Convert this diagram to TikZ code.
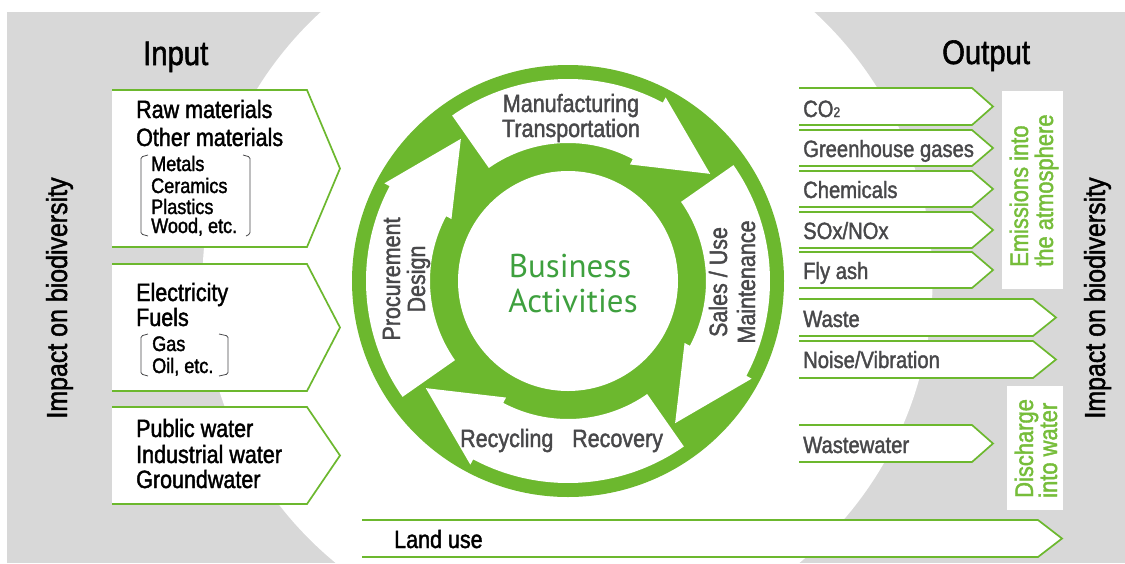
\documentclass[tikz,border=0pt]{standalone}
\usepackage{fontspec}
\setmainfont{Liberation Sans}[FakeStretch=0.86,FakeBold=1.6]
\newfontfamily\bafont{PT Sans}
\definecolor{grn}{RGB}{108,184,46}
\definecolor{bggray}{RGB}{216,216,216}
\definecolor{dgray}{RGB}{72,72,74}
\definecolor{bagreen}{RGB}{62,160,62}
\definecolor{emgreen}{RGB}{118,189,58}
\newcommand\myinarrow[2]{%
  \fill[white] (112,#1) -- (307,#1) -- (340,{(#1+#2)/2}) -- (307,#2) -- (112,#2) -- cycle;
  \draw[border] (112,#1) -- (307,#1) -- (340,{(#1+#2)/2}) -- (307,#2) -- (112,#2);}
\newcommand\myoutarrow[5]{%
  \fill[white] (#1,#2) -- (#4,#2) -- (#5,{(#2+#3)/2}) -- (#4,#3) -- (#1,#3) -- cycle;
  \draw[border] (#1,#2) -- (#4,#2) -- (#5,{(#2+#3)/2}) -- (#4,#3) -- (#1,#3);}
\begin{document}
\begin{tikzpicture}[x=1pt,y=-1pt,
  border/.style={draw=grn,line width=1.7pt,line join=miter},
  brk/.style={draw=dgray,line width=0.8pt,rounded corners=1.5pt},
  intxt/.style={inner sep=0pt,anchor=base west,font=\fontsize{25}{27}\selectfont},
  listtxt/.style={inner sep=0pt,anchor=base west,font=\fontsize{21}{23}\selectfont},
  outtxt/.style={inner sep=0pt,anchor=base west,text=dgray,font=\fontsize{23.5}{26}\selectfont},
  ctxt/.style={inner sep=0pt,text=dgray,font=\fontsize{25}{27}\selectfont},
  batxt/.style={inner sep=0pt,anchor=base,text=bagreen,font=\bafont\fontsize{33}{35}\selectfont},
  titletxt/.style={inner sep=0pt,anchor=base west,font=\fontsize{34}{36}\selectfont},
  imptxt/.style={inner sep=0pt,anchor=base,rotate=90,font=\fontsize{29}{31}\selectfont},
  emtxt/.style={inner sep=0pt,anchor=base west,rotate=90,text=emgreen,font=\fontsize{25.5}{27}\selectfont}]
\useasboundingbox (0,0) rectangle (1125,563);
% background
\fill[bggray] (7,12) rectangle (1125,563);
\begin{scope}
  \clip (7,12) rectangle (1125,563);
  \fill[white] (567.5,281) circle[radius=365];
\end{scope}
% titles
\node[titletxt] (input) at (143,65) {Input};
\node[titletxt] (output) at (942,64) {Output};
\node[imptxt] (impl) at (67,298) {Impact on biodiversity};
\node[imptxt] (impr) at (1105,298) {Impact on biodiversity};
% input arrows
\myinarrow{90}{247}
\myinarrow{264}{391}
\myinarrow{407}{504}
\node[intxt] (raw) at (136,118) {Raw materials};
\node[intxt] (other) at (136,146) {Other materials};
\node[listtxt] (metals) at (151,171) {Metals};
\node[listtxt] (ceramics) at (151,193) {Ceramics};
\node[listtxt] (plastics) at (151,214) {Plastics};
\node[listtxt] (wood) at (151,233) {Wood, etc.};
\draw[brk] (148,155) -- (141,157) -- (141,234) -- (148,236);
\draw[brk] (243,155) -- (250,157) -- (250,234) -- (246,236);
\node[intxt] (elec) at (136,301) {Electricity};
\node[intxt] (fuels) at (136,326) {Fuels};
\node[listtxt] (gas) at (152,351) {Gas};
\node[listtxt] (oil) at (152,373) {Oil, etc.};
\draw[brk] (148,334) -- (141,336) -- (141,374) -- (148,376);
\draw[brk] (219,334) -- (228,336) -- (228,374) -- (219,376);
\node[intxt] (pub) at (136,437) {Public water};
\node[intxt] (ind) at (136,463) {Industrial water};
\node[intxt] (ground) at (136,488) {Groundwater};
% central cycle
\begin{scope}[shift={(568,281)},yscale=-1]
  \fill[grn] (0,0) circle[radius=216];
  \fill[white] (0,0) circle[radius=110];
  \foreach \t in {125,35,-55,-145}{
    \fill[white] (\t:202) arc[start angle=\t,end angle=\t-63,radius=202]
      -- (\t-63:208) -- (\t-88:178) -- (\t-63:132) -- (\t-63:138)
      arc[start angle=\t-63,end angle=\t,radius=138] -- cycle;}
\end{scope}
\node[batxt] (bus) at (570,277) {Business};
\node[batxt] (act) at (573,312) {Activities};
\node[ctxt,anchor=base] (manu) at (571,112) {Manufacturing};
\node[ctxt,anchor=base] (trans) at (571,137) {Transportation};
\node[ctxt,anchor=base west] (recy) at (460,447) {Recycling};
\node[ctxt,anchor=base west] (reco) at (572,447) {Recovery};
\node[ctxt,rotate=90,anchor=base] (proc) at (400,279) {Procurement};
\node[ctxt,rotate=90,anchor=base] (design) at (425,279) {Design};
\node[ctxt,rotate=90,anchor=base] (sales) at (727,282) {Sales / Use};
\node[ctxt,rotate=90,anchor=base] (maint) at (755,282) {Maintenance};
% output arrows
\myoutarrow{799}{88}{125}{972}{993}
\myoutarrow{799}{130}{166}{972}{993}
\myoutarrow{799}{171}{207}{972}{993}
\myoutarrow{799}{212}{248}{972}{993}
\myoutarrow{799}{252}{288}{972}{993}
\myoutarrow{799}{299}{336}{1033}{1056}
\myoutarrow{799}{341}{378}{1033}{1056}
\myoutarrow{799}{425}{462}{972}{993}
\myoutarrow{362}{520}{557}{1038}{1062}
\node[outtxt] (co2) at (803,117) {CO{\fontsize{14}{14}\selectfont 2}};
\node[outtxt] (ghg) at (803,157) {Greenhouse gases};
\node[outtxt] (chem) at (803,198) {Chemicals};
\node[outtxt] (sox) at (803,239) {SOx/NOx};
\node[outtxt] (fly) at (803,279) {Fly ash};
\node[outtxt] (waste) at (803,327) {Waste};
\node[outtxt] (noise) at (803,368) {Noise/Vibration};
\node[outtxt] (ww) at (803,453) {Wastewater};
\node[intxt] (land) at (394,548) {Land use};
% category boxes
\fill[white] (1002,91) rectangle (1063,289);
\fill[white] (1007,386) rectangle (1063,510);
\node[emtxt] (em1) at (1028,267) {Emissions into};
\node[emtxt] (em2) at (1053,267) {the atmosphere};
\node[emtxt] (dis1) at (1033,498) {Discharge};
\node[emtxt] (dis2) at (1057,498) {into water};
\end{tikzpicture}
\end{document}
